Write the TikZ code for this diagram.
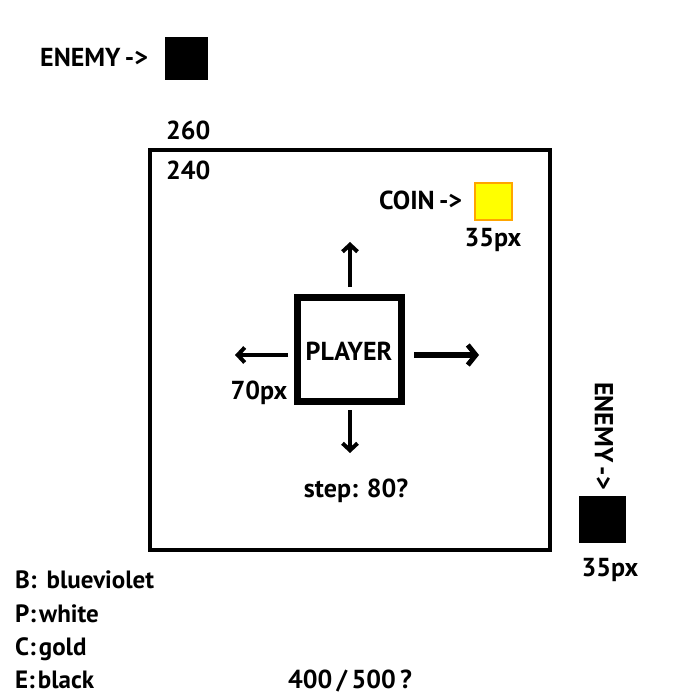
\documentclass[tikz,border=0pt]{standalone}
\usepackage{fontspec}
\setmainfont{PT Sans}
\usetikzlibrary{arrows.meta}
\definecolor{coinfill}{HTML}{FFFF00}
\definecolor{coinedge}{HTML}{FFA500}
\newcommand\myLegSpace{\spaceskip=3pt\relax}
\begin{document}
\begin{tikzpicture}[x=1pt,y=-1pt,
  lbl/.style={font=\fontsize{26}{30}\selectfont\bfseries, inner sep=0pt, anchor=base},
  lbll/.style={lbl, anchor=base west},
  leg/.style={font=\fontsize{25}{30}\selectfont\bfseries\myLegSpace, inner sep=0pt, anchor=base west},
  mv/.style={line width=4pt, -{Straight Barb[length=7pt,width=15pt,line width=4pt]}},
  mvthick/.style={line width=6pt, -{Straight Barb[length=8pt,width=20pt,line width=5pt]}}]
\useasboundingbox (0,0) rectangle (700,700);
% enemy top
\node[lbll] (enemytxt) at (40,67) {ENEMY\,->};
\node[fill=black, minimum size=43pt, inner sep=0pt] (enemy1) at (186.5,58.5) {};
% labels
\node[lbll] (l260) at (166,140) {260};
% board
\node[draw=black, line width=4pt, minimum size=400pt, inner sep=0pt] (board) at (350,350) {};
\node[lbll] (l240) at (166,180) {240};
% coin
\node[lbll] (cointxt) at (379,210) {COIN\,->};
\node[fill=coinfill, draw=coinedge, line width=2pt, minimum size=37pt, inner sep=0pt] (coin) at (493.5,201.5) {};
\node[lbl] (coinpx) at (493,247) {35px};
% player
\node[draw=black, line width=7pt, minimum size=104pt, inner sep=0pt] (player) at (349.5,349.5) {};
\node[lbl] (playertxt) at (349,360) {PLAYER};
\coordinate (uS) at (350,287); \coordinate (uE) at (350,242);
\coordinate (lS) at (288,355); \coordinate (lE) at (235,355);
\coordinate (rS) at (414,355); \coordinate (rE) at (479,355);
\coordinate (dS) at (350,410); \coordinate (dE) at (350,453);
\draw[mv] (uS) -- (uE);
\draw[mv] (lS) -- (lE);
\draw[mvthick] (rS) -- (rE);
\draw[mv] (dS) -- (dE);
\node[lbl] (px70) at (259,399) {70px};
\node[lbl] (steptxt) at (356,497) {step: 80?};
% right enemy
\node[lbl, anchor=center, rotate=-90] (enemytxt2) at (604,436) {ENEMY\,->};
\node[fill=black, minimum size=47pt, inner sep=0pt] (enemy2) at (602.5,519.5) {};
\node[lbl] (enemypx) at (610,576) {35px};
% legend
\node[leg] (legB) at (15,588) {B: \hspace{7pt}blueviolet};
\node[leg] (legP) at (15,622) {P: white};
\node[leg] (legC) at (15,655) {C: gold};
\node[leg] (legE) at (15,688) {E: black};
\node[lbl] (size) at (350,688) {400\,/\,500\,?};
\end{tikzpicture}
\end{document}
